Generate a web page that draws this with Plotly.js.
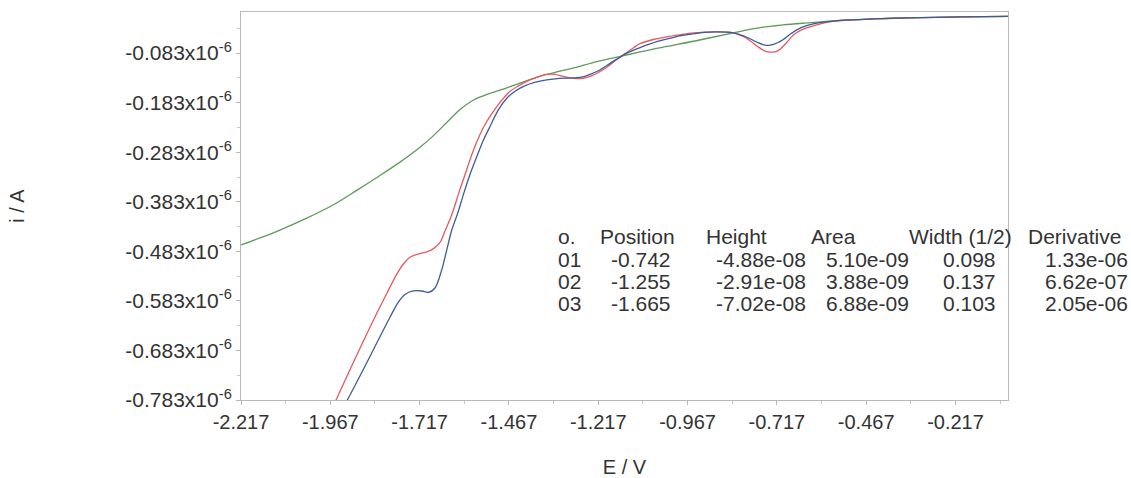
<!DOCTYPE html>
<html>
<head>
<meta charset="utf-8">
<script src="https://cdn.plot.ly/plotly-3.0.1.min.js"></script>
<style>
  html, body { margin: 0; padding: 0; background: #ffffff; }
  #chart { width: 1131px; height: 478px; }
</style>
</head>
<body>
<div id="chart"></div>
<script>
// ---------------- data ----------------
// potentials in V, currents in microamperes (axis labels show x10^-6 A)
const potentialGreen = [-2.217,-2.164,-2.108,-2.033,-1.958,-1.893,-1.828,-1.772,-1.716,-1.679,-1.641,-1.604,-1.567,-1.520,-1.473,-1.426,-1.380,-1.333,-1.286,-1.221,-1.146,-1.050,-0.950,-0.839,-0.760,-0.700,-0.633,-0.540,-0.450,-0.353,-0.200,-0.070];
const currentGreen   = [-0.470,-0.456,-0.440,-0.416,-0.389,-0.360,-0.330,-0.303,-0.273,-0.250,-0.223,-0.197,-0.178,-0.164,-0.153,-0.141,-0.130,-0.121,-0.113,-0.100,-0.088,-0.073,-0.059,-0.042,-0.031,-0.026,-0.022,-0.017,-0.014,-0.012,-0.010,-0.009];

const potentialRed = [-1.990,-1.949,-1.912,-1.875,-1.837,-1.809,-1.781,-1.762,-1.744,-1.725,-1.697,-1.679,-1.660,-1.646,-1.625,-1.605,-1.585,-1.567,-1.548,-1.530,-1.510,-1.487,-1.464,-1.440,-1.417,-1.390,-1.361,-1.338,-1.315,-1.286,-1.260,-1.240,-1.212,-1.190,-1.165,-1.146,-1.118,-1.100,-1.060,-1.025,-0.990,-0.950,-0.885,-0.839,-0.810,-0.792,-0.770,-0.750,-0.736,-0.720,-0.708,-0.690,-0.670,-0.645,-0.615,-0.590,-0.559,-0.500,-0.447,-0.353,-0.200,-0.070];
const currentRed   = [-0.842,-0.780,-0.722,-0.665,-0.608,-0.568,-0.529,-0.508,-0.495,-0.489,-0.484,-0.478,-0.465,-0.442,-0.405,-0.360,-0.318,-0.280,-0.247,-0.222,-0.200,-0.178,-0.160,-0.149,-0.140,-0.132,-0.126,-0.126,-0.130,-0.134,-0.134,-0.130,-0.120,-0.110,-0.096,-0.086,-0.072,-0.064,-0.055,-0.050,-0.046,-0.042,-0.040,-0.042,-0.050,-0.058,-0.070,-0.079,-0.081,-0.080,-0.075,-0.062,-0.046,-0.035,-0.028,-0.023,-0.019,-0.016,-0.014,-0.012,-0.010,-0.009];

const potentialBlue = [-1.960,-1.917,-1.875,-1.837,-1.800,-1.777,-1.758,-1.735,-1.711,-1.692,-1.674,-1.655,-1.641,-1.627,-1.610,-1.593,-1.576,-1.557,-1.538,-1.520,-1.497,-1.473,-1.450,-1.426,-1.395,-1.361,-1.325,-1.286,-1.260,-1.240,-1.215,-1.193,-1.165,-1.137,-1.100,-1.053,-1.000,-0.960,-0.920,-0.885,-0.839,-0.810,-0.792,-0.770,-0.750,-0.735,-0.715,-0.700,-0.680,-0.661,-0.640,-0.615,-0.580,-0.540,-0.447,-0.353,-0.200,-0.070];
const currentBlue   = [-0.838,-0.780,-0.722,-0.668,-0.616,-0.586,-0.570,-0.563,-0.563,-0.566,-0.557,-0.520,-0.480,-0.440,-0.405,-0.365,-0.328,-0.292,-0.258,-0.231,-0.198,-0.174,-0.160,-0.150,-0.142,-0.137,-0.134,-0.133,-0.131,-0.126,-0.118,-0.108,-0.095,-0.083,-0.072,-0.060,-0.050,-0.045,-0.041,-0.040,-0.042,-0.048,-0.054,-0.062,-0.067,-0.067,-0.062,-0.056,-0.045,-0.036,-0.029,-0.024,-0.020,-0.017,-0.014,-0.012,-0.010,-0.009];

const xTickVals = [-2.217,-1.967,-1.717,-1.467,-1.217,-0.967,-0.717,-0.467,-0.217];
const xTickText = ['-2.217','-1.967','-1.717','-1.467','-1.217','-0.967','-0.717','-0.467','-0.217'];
const yTickVals = [-0.083,-0.183,-0.283,-0.383,-0.483,-0.583,-0.683,-0.783];
const yTickText = ['-0.083x10<sup>-6</sup>','-0.183x10<sup>-6</sup>','-0.283x10<sup>-6</sup>','-0.383x10<sup>-6</sup>','-0.483x10<sup>-6</sup>','-0.583x10<sup>-6</sup>','-0.683x10<sup>-6</sup>','-0.783x10<sup>-6</sup>'];

// peak table
const tableHeader   = ['o.','Position','Height','Area','Width (1/2)','Derivative'];
const peakNo        = ['01','02','03'];
const peakPosition  = ['-0.742','-1.255','-1.665'];
const peakHeight    = ['-4.88e-08','-2.91e-08','-7.02e-08'];
const peakArea      = ['5.10e-09','3.88e-09','6.88e-09'];
const peakWidth     = ['0.098','0.137','0.103'];
const peakDerivative= ['1.33e-06','6.62e-07','2.05e-06'];

// ---------------- layout / style ----------------
const W = 1131, H = 478;
const M = {l: 241, r: 123, t: 12, b: 78};
const plotW = W - M.l - M.r, plotH = H - M.t - M.b;
const pxToPaperX = px => (px - M.l) / plotW;
const pxToPaperY = py => (H - M.b - py) / plotH;

const textColor = '#333333';
const fontFam = 'Liberation Sans, Arial, sans-serif';
const lineShape = {shape: 'spline', smoothing: 0.9, width: 1.3};

const traces = [
  {x: potentialGreen, y: currentGreen, mode: 'lines', line: Object.assign({color: '#5f9a5c'}, lineShape), hoverinfo: 'skip'},
  {x: potentialRed,   y: currentRed,   mode: 'lines', line: Object.assign({color: '#e8585e'}, lineShape), hoverinfo: 'skip'},
  {x: potentialBlue,  y: currentBlue,  mode: 'lines', line: Object.assign({color: '#3a5d98'}, lineShape), hoverinfo: 'skip'}
];

// table columns: left pixel positions of header and of values
const headerX = [556, 598, 704, 809, 907, 1026];
const valueX  = [556, 609, 714, 824, 941, 1043];
const headerY = 237;
const rowY    = [259, 281, 303];
const columns = [peakNo, peakPosition, peakHeight, peakArea, peakWidth, peakDerivative];

const annotations = [];
tableHeader.forEach((t, i) => {
  annotations.push({text: t, xref: 'paper', yref: 'paper', x: pxToPaperX(headerX[i]), y: pxToPaperY(headerY),
    xanchor: 'left', yanchor: 'middle', showarrow: false, font: {family: fontFam, size: 21, color: textColor}});
});
columns.forEach((col, c) => {
  col.forEach((t, r) => {
    annotations.push({text: t, xref: 'paper', yref: 'paper', x: pxToPaperX(valueX[c]), y: pxToPaperY(rowY[r]),
      xanchor: 'left', yanchor: 'middle', showarrow: false, font: {family: fontFam, size: 21, color: textColor}});
  });
});

const layout = {
  width: W, height: H,
  margin: M,
  paper_bgcolor: '#ffffff', plot_bgcolor: '#ffffff',
  showlegend: false,
  font: {family: fontFam, size: 20, color: textColor},
  xaxis: {
    range: [-2.217, -0.070],
    tickmode: 'array', tickvals: xTickVals, ticktext: xTickText,
    ticks: 'outside', ticklen: 4, tickcolor: '#b8b8b8', tickwidth: 1,
    minor: {dtick: 0.125, tick0: -2.217, ticks: 'outside', ticklen: 3, tickcolor: '#c8c8c8'},
    showgrid: false, zeroline: false,
    showline: true, linecolor: '#b8b8b8', linewidth: 1, mirror: true,
    tickfont: {family: fontFam, size: 20, color: textColor},
    title: {text: 'E / V', font: {family: fontFam, size: 20, color: textColor}, standoff: 30},
    automargin: false
  },
  yaxis: {
    range: [-0.783, 0.0],
    tickmode: 'array', tickvals: yTickVals, ticktext: yTickText,
    ticks: 'outside', ticklen: 4, tickcolor: '#b8b8b8', tickwidth: 1,
    minor: {dtick: 0.05, tick0: -0.783, ticks: 'outside', ticklen: 3, tickcolor: '#c8c8c8'},
    showgrid: false, zeroline: false,
    showline: true, linecolor: '#b8b8b8', linewidth: 1, mirror: true,
    tickfont: {family: fontFam, size: 21, color: textColor},
    title: {text: 'i / A', font: {family: fontFam, size: 20, color: textColor}, standoff: 95},
    automargin: false
  },
  annotations: annotations
};

Plotly.newPlot('chart', traces, layout, {displayModeBar: false, staticPlot: true});
</script>
</body>
</html>
